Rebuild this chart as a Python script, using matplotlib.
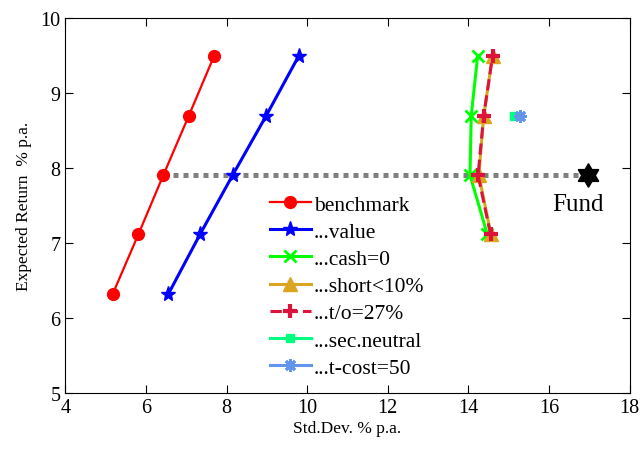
import matplotlib
matplotlib.use('Agg')
import matplotlib.pyplot as plt

plt.rcParams['font.family'] = ['Liberation Serif', 'DejaVu Serif']

# expected return levels (% p.a.)
ret = [6.32, 7.12, 7.91, 8.70, 9.50]

bench_sd = [5.17, 5.81, 6.43, 7.06, 7.69]
value_sd = [6.55, 7.34, 8.15, 8.98, 9.79]

cash_ret = [7.12, 7.91, 8.70, 9.50]
cash_sd = [14.47, 14.04, 14.07, 14.23]

short_ret = [7.12, 7.91, 8.70, 9.50]
short_sd = [14.56, 14.26, 14.38, 14.60]

to_ret = [7.12, 7.91, 8.70, 9.50]
to_sd = [14.55, 14.24, 14.38, 14.60]

sec_ret = [8.70]
sec_sd = [15.12]

tcost_ret = [8.70]
tcost_sd = [15.29]

fund_sd = 16.98
fund_ret = 7.91

fig = plt.figure(figsize=(6.44, 4.52), dpi=100)
ax = fig.add_axes([0.1016, 0.1277, 0.876, 0.8293])

# horizontal line from benchmark to fund
ax.plot([bench_sd[2], fund_sd], [fund_ret, fund_ret], color='#808080', lw=3.6,
        linestyle=(0, (1, 1)), dash_capstyle='butt', zorder=1)

ax.plot(bench_sd, ret, '-o', color='red', lw=1.6, ms=8.5, label='benchmark', zorder=3)
ax.plot(value_sd, ret, '-*', color='blue', lw=2.2, ms=11, label='...value', zorder=3)
ax.plot(cash_sd, cash_ret, '-x', color='#00ff00', lw=2.2, ms=8, mew=2, label='...cash=0', zorder=3)
ax.plot(short_sd, short_ret, '-^', color='#DAA520', lw=2.2, ms=10, label='...short<10%', zorder=3)
ax.plot(to_sd, to_ret, '--+', color='#DC143C', lw=2.2, ms=10, mew=3, label='...t/o=27%', zorder=4)
ax.plot(sec_sd, sec_ret, '-s', color='#00FF7F', lw=2.2, ms=6, label='...sec.neutral', zorder=3)
ax.plot(tcost_sd, tcost_ret, '-', color='#6495ED', lw=2.2, ms=9, mew=2, marker=(8, 2, 0),
        label='...t-cost=50', zorder=4)

# fund marker (hexagram = two triangles)
ax.plot([fund_sd], [fund_ret], marker=(3, 0, 0), ms=17, color='black', lw=0, zorder=5)
ax.plot([fund_sd], [fund_ret], marker=(3, 0, 180), ms=17, color='black', lw=0, zorder=5)
ax.text(16.71, 7.52, 'Fund', fontsize=18, ha='center', va='center')

ax.set_xlim(4, 18)
ax.set_ylim(5, 10)
ax.set_xticks(range(4, 19, 2))
ax.set_yticks(range(5, 11))
ax.tick_params(direction='in', top=True, right=True, labelsize=14.5, length=6)
ax.set_xlabel('Std.Dev. % p.a.', fontsize=12.5, labelpad=2)
ax.set_ylabel('Expected Return  % p.a.', fontsize=12.5, labelpad=6)

ax.legend(loc='upper left', bbox_to_anchor=(0.362, 0.53), frameon=False,
          fontsize=15.5, handlelength=1.9, handletextpad=0.15, labelspacing=0.33,
          borderpad=0, borderaxespad=0)

fig.savefig('out.png', dpi=100)
